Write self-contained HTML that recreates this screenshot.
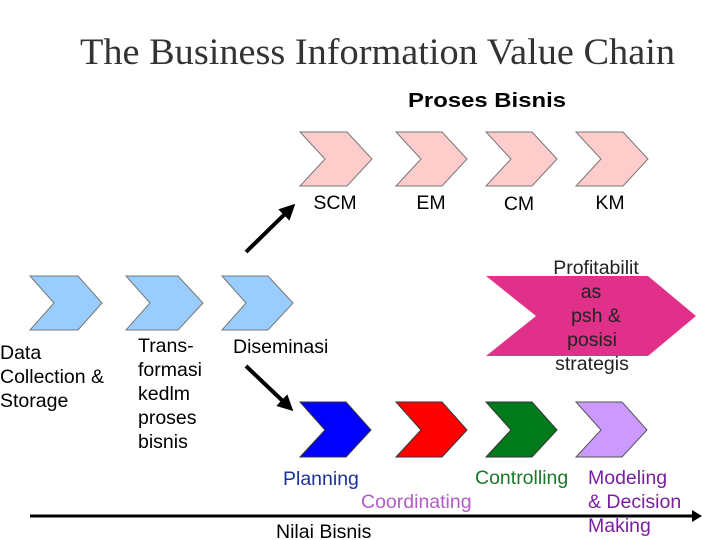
<!DOCTYPE html>
<html><head><meta charset="utf-8"><style>
html,body{margin:0;padding:0;background:#fff;}
svg{display:block;}
text{font-family:"Liberation Sans",sans-serif;font-size:19.5px;}
</style></head><body>
<svg width="720" height="540" viewBox="0 0 720 540" xmlns="http://www.w3.org/2000/svg">
<defs>
<marker id="ah" markerWidth="4" markerHeight="4" refX="2.5" refY="2" orient="auto" markerUnits="strokeWidth"><path d="M0,0 L4,2 L0,4 z" fill="#000"/></marker>
</defs>
<text x="80" y="64" textLength="595" lengthAdjust="spacingAndGlyphs" style="font-family:'Liberation Serif',serif;font-size:37px" fill="#333">The Business Information Value Chain</text>
<text x="408" y="107" textLength="158" lengthAdjust="spacingAndGlyphs" style="font-size:20px;font-weight:bold">Proses Bisnis</text>
<g fill="#FFCCCC" stroke="#777" stroke-width="1">
<path d="M300,132 L347,132 L372,159 L347,186 L300,186 L325,159 Z"/>
<path d="M396,132 L442,132 L467,159 L442,186 L396,186 L421,159 Z"/>
<path d="M486,132 L532,132 L557,159 L532,186 L486,186 L511,159 Z"/>
<path d="M576,132 L623,132 L648,159 L623,186 L576,186 L601,159 Z"/>
</g>
<text x="335" y="209" text-anchor="middle">SCM</text>
<text x="431" y="209" text-anchor="middle">EM</text>
<text x="519" y="210" text-anchor="middle">CM</text>
<text x="610" y="209" text-anchor="middle">KM</text>
<g fill="#99CCFF" stroke="#777" stroke-width="1">
<path d="M30,276 L78,276 L102,303 L78,330 L30,330 L54,303 Z"/>
<path d="M126,276 L178,276 L203,303 L178,330 L126,330 L150,303 Z"/>
<path d="M222,276 L268,276 L293,303 L268,330 L222,330 L246,303 Z"/>
</g>
<path d="M486,276 L648,276 L696,316 L648,356 L486,356 L536,316 Z" fill="#E0308A"/>
<g text-anchor="middle" fill="#222">
<text x="596" y="274">Profitabilit</text>
<text x="591" y="298">as</text>
<text x="596" y="322">psh &amp;</text>
<text x="592" y="346">posisi</text>
<text x="592" y="370">strategis</text>
</g>
<text x="0" y="359">Data</text>
<text x="0" y="383">Collection &amp;</text>
<text x="0" y="407">Storage</text>
<text x="138" y="352">Trans-</text>
<text x="138" y="376">formasi</text>
<text x="138" y="400">kedlm</text>
<text x="138" y="424">proses</text>
<text x="138" y="448">bisnis</text>
<text x="233" y="353">Diseminasi</text>
<line x1="246" y1="252" x2="291" y2="208" stroke="#000" stroke-width="4" marker-end="url(#ah)"/>
<line x1="246" y1="366" x2="289" y2="407" stroke="#000" stroke-width="4" marker-end="url(#ah)"/>
<path d="M300,402 L346,402 L371,430 L346,457 L300,457 L325,430 Z" fill="#0000FF" stroke="#333"/>
<path d="M396,402 L442,402 L467,430 L442,457 L396,457 L421,430 Z" fill="#FF0000" stroke="#333"/>
<path d="M486,402 L532,402 L557,430 L532,457 L486,457 L511,430 Z" fill="#007A1A" stroke="#333"/>
<path d="M576,402 L622,402 L647,430 L622,457 L576,457 L601,430 Z" fill="#CC99FF" stroke="#555"/>
<text x="283" y="485" fill="#1a3399">Planning</text>
<text x="361" y="508" fill="#B35CC8">Coordinating</text>
<text x="475" y="484" fill="#1a7a2a">Controlling</text>
<text x="588" y="484" fill="#7a1fa0">Modeling</text>
<text x="588" y="508" fill="#7a1fa0">&amp; Decision</text>
<text x="588" y="532" fill="#7a1fa0">Making</text>
<line x1="30" y1="516" x2="696" y2="516" stroke="#000" stroke-width="3"/>
<path d="M692,510 L702,516 L692,522 Z" fill="#000"/>
<text x="276" y="538">Nilai Bisnis</text>
</svg>
</body></html>
